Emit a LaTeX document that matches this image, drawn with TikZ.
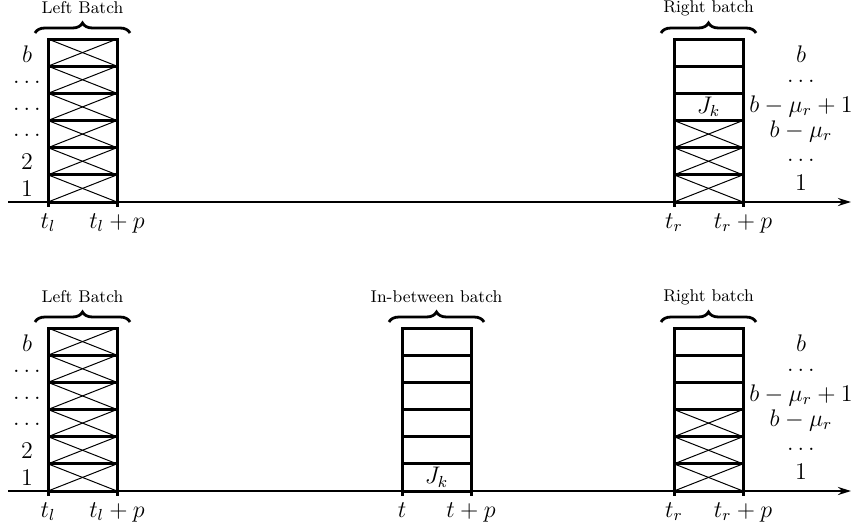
\documentclass[tikz,border=0pt]{standalone}
\usetikzlibrary{calc,arrows.meta,decorations.pathreplacing}

\tikzset{
  boxline/.style={line width=1.5pt},
  crossline/.style={line width=0.5pt},
  batchshape/.style={minimum width=34.5pt, minimum height=81.5pt, inner sep=0pt, outer sep=0pt},
  timeaxis/.style={line width=1.4pt, -{Stealth[length=6.5pt,width=4pt]}},
  tickmark/.style={line width=1.5pt},
  ticklabel/.style={anchor=north, inner sep=0pt},
  batchbrace/.style={decorate, decoration={brace, amplitude=5pt}, line width=1.4pt},
  bracelabel/.style={font=\fontsize{8.5}{10}\selectfont, inner sep=0pt},
  rowlabel/.style={anchor=base, inner sep=0pt},
}

% #1 name, #2 left x, #3 crossed cells (from the bottom), #4 cell holding J_k (0: none),
% #5 brace label, #6 left time label, #7 right time label
\newcommand\drawbatch[7]{%
  \node[batchshape] (#1) at (#2+34.5,120.5) {};
  \ifnum#3>0
    \foreach \k in {1,...,#3} {
      \pgfmathsetmacro\flo{(\k-1)/6}
      \pgfmathsetmacro\fhi{\k/6}
      \draw[crossline] ($(#1.south west)!\flo!(#1.north west)$) -- ($(#1.south east)!\fhi!(#1.north east)$);
      \draw[crossline] ($(#1.south west)!\fhi!(#1.north west)$) -- ($(#1.south east)!\flo!(#1.north east)$);
    }
  \fi
  \foreach \k in {1,...,5} {
    \pgfmathsetmacro\fk{\k/6}
    \draw[boxline] ($(#1.south west)!\fk!(#1.north west)$) -- ($(#1.south east)!\fk!(#1.north east)$);
  }
  \draw[boxline] (#1.south west) rectangle (#1.north east);
  \ifnum#4>0
    \pgfmathsetmacro\fj{(#4-0.5)/6}
    \node (#1-job) at ($(#1.south)!\fj!(#1.north)$) {$J_k$};
  \fi
  \draw[batchbrace] ([xshift=-6.5pt,yshift=3pt]#1.north west) -- ([xshift=6.5pt,yshift=3pt]#1.north east)
    node[bracelabel, midway, yshift=12.5pt] (#1-lbl) {#5};
  \draw[tickmark] (#1.south west) -- ++(0,5);
  \draw[tickmark] (#1.south east) -- ++(0,5);
  \node[ticklabel] (#1-tl) at ([yshift=-5.5pt]#1.south west) {#6};
  \node[ticklabel] (#1-tr) at ([yshift=-5.5pt]#1.south east) {#7};
}

% time axis and the slot numbers on both sides
\newcommand\drawframe[1]{%
  \coordinate (#1-a0) at (8,202);
  \coordinate (#1-a1) at (851,202);
  \draw[timeaxis] (#1-a0) -- (#1-a1);
  \foreach \yy/\txt [count=\i] in {62/$b$,83/$\dots$,110/$\dots$,136/$\dots$,169/$2$,196/$1$}
    \node[rowlabel] (#1-L\i) at (27,\yy) {\txt};
  \foreach \yy/\txt [count=\i] in {62/$b$,82/$\dots$,112/$b-\mu_r+1$,137/$b-\mu_r$,161/$\dots$,190/$1$}
    \node[rowlabel] (#1-R\i) at (801,\yy) {\txt};
}

\begin{document}
\begin{tikzpicture}[x=0.5pt,y=-0.5pt,font=\fontsize{11.7}{14}\selectfont]
\useasboundingbox (0,0) rectangle (854,530);

% upper schedule
\begin{scope}
  \drawframe{T}
  \drawbatch{TL}{48}{6}{0}{Left Batch}{$t_l$}{$t_l+p$}
  \drawbatch{TR}{674}{3}{4}{Right batch}{$t_r$}{$t_r+p$}
\end{scope}

% lower schedule
\begin{scope}[yshift=-144.5pt]
  \drawframe{B}
  \drawbatch{BL}{48}{6}{0}{Left Batch}{$t_l$}{$t_l+p$}
  \drawbatch{BM}{402}{0}{1}{In-between batch}{$t$}{$t+p$}
  \drawbatch{BR}{674}{3}{0}{Right batch}{$t_r$}{$t_r+p$}
\end{scope}
\end{tikzpicture}
\end{document}
